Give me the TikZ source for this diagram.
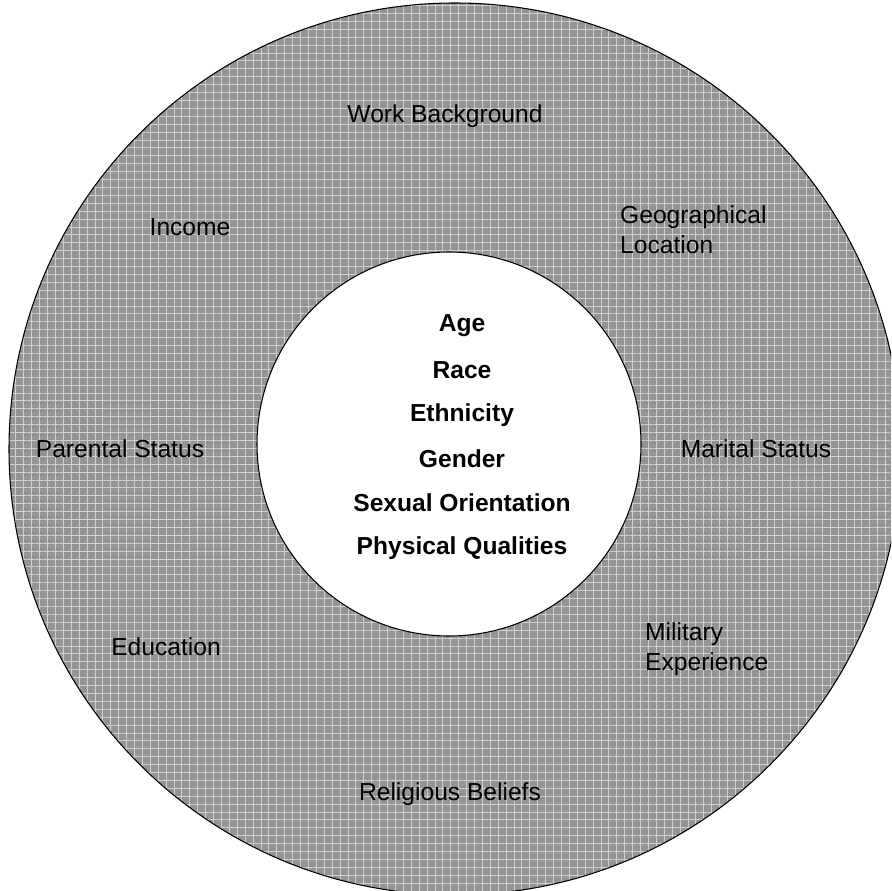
\documentclass[tikz,border=0pt]{standalone}
\usepackage{fontspec}
\setmainfont{Liberation Sans}
\usetikzlibrary{patterns.meta}
\definecolor{ringgray}{RGB}{148,148,148}
\tikzset{
  outer/.style={font=\fontsize{14}{17}\selectfont, align=center},
  outerleft/.style={font=\fontsize{14}{17}\selectfont, align=left, anchor=west},
  inner/.style={font=\fontsize{14}{17}\selectfont\bfseries}
}
\begin{document}
\begin{tikzpicture}[x=0.02cm, y=-0.02cm]
    \useasboundingbox (0,0) rectangle (891,891);
    \begin{scope}
    \clip (0,0) rectangle (891,891);
    % Draw the outer ring
    \fill[ringgray] (455,449) circle (446);
    \fill[pattern={Lines[angle=0,distance=4.5pt,line width=0.4pt]}, pattern color=white!55!ringgray] (455,449) circle (446);
    \fill[pattern={Lines[angle=90,distance=4.5pt,line width=0.4pt]}, pattern color=white!55!ringgray] (455,449) circle (446);
    \draw[line width=0.6pt] (455,449) circle (446);
    \end{scope}

    % Draw the inner circle
    \fill[white] (449,444) circle (192);
    \draw[line width=0.6pt] (449,444) circle (192);

    % Labels in the ring
    \node[outer] (work) at (445,116) {Work Background};
    \node[outer] (income) at (190,227) {Income};
    \node[outerleft] (geo) at (614,230) {Geographical\\Location};
    \node[outer] (parental) at (120,449) {Parental Status};
    \node[outer] (marital) at (756,449) {Marital Status};
    \node[outer] (education) at (166,647) {Education};
    \node[outerleft] (military) at (639,649) {Military\\Experience};
    \node[outer] (religious) at (450,794) {Religious Beliefs};

    % Labels in the centre
    \node[inner] (age) at (462,326) {Age};
    \node[inner] (race) at (462,370) {Race};
    \node[inner] (ethnicity) at (462,415) {Ethnicity};
    \node[inner] (gender) at (462,459) {Gender};
    \node[inner] (sexual) at (462,503) {Sexual Orientation};
    \node[inner] (physical) at (462,548) {Physical Qualities};
\end{tikzpicture}
\end{document}
